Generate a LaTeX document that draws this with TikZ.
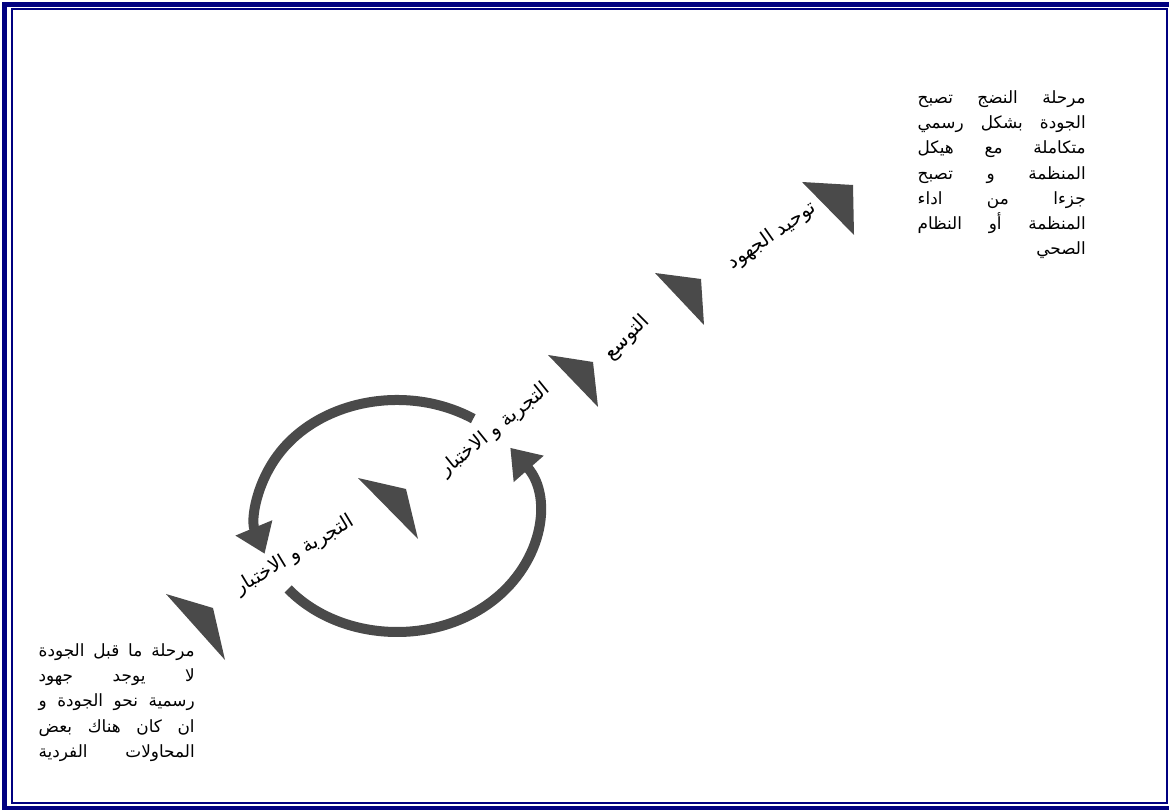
\documentclass[tikz,border=0pt]{standalone}
\usepackage{fontspec}
\newfontfamily\arabicfont[Script=Arabic]{DejaVu Sans}
\TeXXeTstate=1
\usetikzlibrary{arrows.meta,calc}
\definecolor{framenavy}{HTML}{000080}
\definecolor{stagegray}{HTML}{4A4A4A}
\tikzset{
  stage/.style={fill=stagegray, draw=none},
  cyclearrow/.style={draw=stagegray, line width=0.25cm, -{Triangle[width=0.95cm, length=0.7cm]}},
  lbl/.style={font=\arabicfont\fontsize{14}{16}\selectfont, inner sep=0pt},
  note/.style={font=\arabicfont\fontsize{12}{18}\selectfont, inner sep=0pt, anchor=north east, align=right}
}
\newcommand{\rtl}[1]{\beginR #1\endR}
\newcommand{\jline}[2]{\hbox to #1{\beginR #2\endR}}

\begin{document}
\begin{tikzpicture}[x=0.025cm, y=0.025cm]
  \useasboundingbox (0,0) rectangle (1169,809);
  \fill[white] (0,0) rectangle (1169,809);
  \draw[framenavy, line width=0.11cm] (4.5,1) rectangle (1173,804.5);
  \draw[framenavy, line width=0.065cm] (12,6) rectangle (1167,800);

  \fill[stage] (166,215) -- (213,201) -- (225,149) -- cycle;
  \fill[stage] (358,331) -- (406,320) -- (418,270) -- cycle;
  \fill[stage] (548,454) -- (593,447) -- (598,402) -- cycle;
  \fill[stage] (655,536) -- (701,530) -- (704,484) -- cycle;
  \fill[stage] (802,627) -- (853,624) -- (854,574) -- cycle;

  \coordinate (c) at (397,293);
  \draw[cyclearrow] ($(c)+(57:140 and 116)$) arc[start angle=57, end angle=199, x radius=140, y radius=116];
  \draw[cyclearrow] ($(c)+(219:140 and 116)$) arc[start angle=219, end angle=396, x radius=140, y radius=116];

  \node[lbl, rotate=31] (l1) at (295,254) {\rtl{التجربة و الاختبار}};
  \node[lbl, rotate=39] (l2) at (495,379) {\rtl{التجربة و الاختبار}};
  \node[lbl, rotate=45] (l3) at (627,471) {\rtl{التوسع}};
  \node[lbl, rotate=35] (l4) at (772,573) {\rtl{توحيد الجهود}};

  \node[note] (mature) at (1086,719) {%
    \jline{4.2cm}{مرحلة\hfill النضج\hfill تصبح}\\
    \jline{4.2cm}{الجودة\hfill بشكل\hfill رسمي}\\
    \jline{4.2cm}{متكاملة\hfill مع\hfill هيكل}\\
    \jline{4.2cm}{المنظمة\hfill و\hfill تصبح}\\
    \jline{4.2cm}{جزءا\hfill من\hfill اداء}\\
    \jline{4.2cm}{المنظمة\hfill أو\hfill النظام}\\
    \jline{4.2cm}{الصحي\hfill}};
  \node[note] (prequality) at (195,166) {%
    \jline{3.9cm}{مرحلة\hfill ما\hfill قبل\hfill الجودة}\\
    \jline{3.9cm}{لا\hfill يوجد\hfill جهود}\\
    \jline{3.9cm}{رسمية\hfill نحو\hfill الجودة\hfill و}\\
    \jline{3.9cm}{ان\hfill كان\hfill هناك\hfill بعض}\\
    \jline{3.9cm}{المحاولات\hfill الفردية}};
\end{tikzpicture}
\end{document}
